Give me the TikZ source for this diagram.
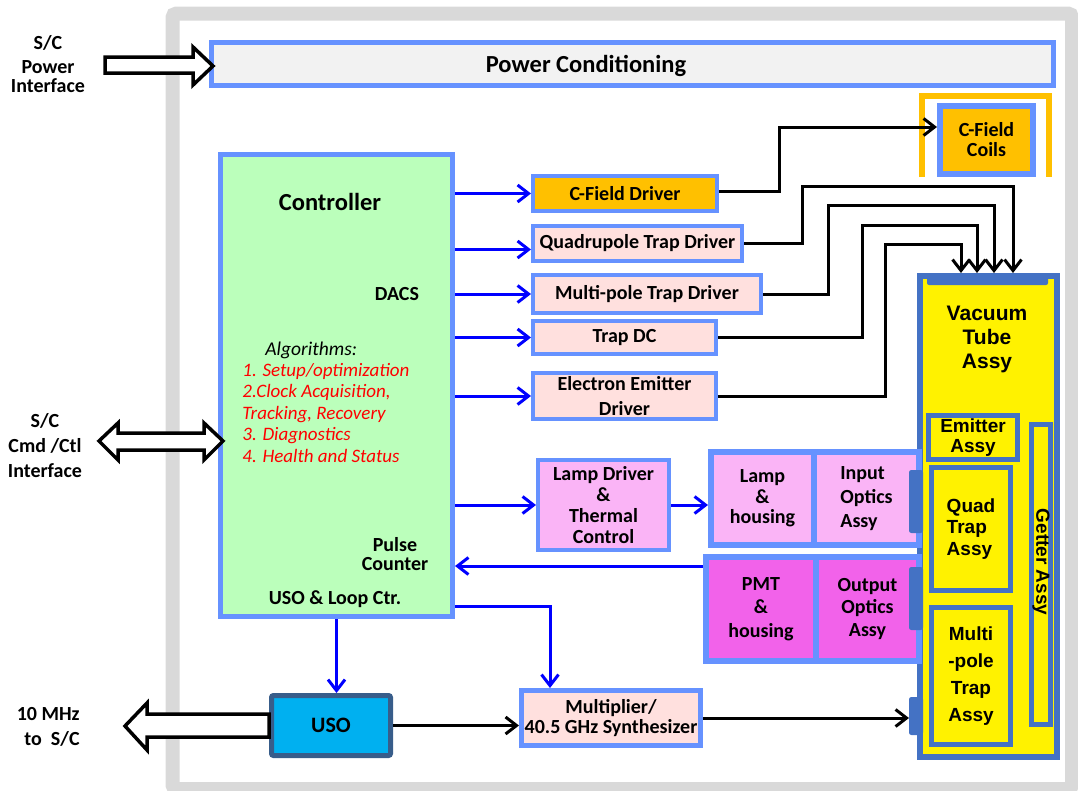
\documentclass[tikz,border=0pt]{standalone}
\usepackage{fontspec}
\setmainfont{Carlito}
\newfontfamily\arialfont{Liberation Sans}
\usetikzlibrary{arrows.meta,calc}

\definecolor{boxblue}{RGB}{102,146,255}
\definecolor{darkblue}{RGB}{68,114,196}
\definecolor{usoblue}{RGB}{0,176,240}
\definecolor{usoedge}{RGB}{56,93,138}
\definecolor{ctrlgreen}{RGB}{187,255,187}
\definecolor{cfdorange}{RGB}{255,192,0}
\definecolor{drvpink}{RGB}{255,224,222}
\definecolor{lamppink}{RGB}{250,180,246}
\definecolor{pmtmagenta}{RGB}{242,98,234}
\definecolor{framegray}{RGB}{217,217,217}
\definecolor{pcgray}{RGB}{242,242,242}

\tikzset{every picture/.style={line width=0.75pt}}
\tikzset{
  blk/.style={draw=boxblue, line width=4pt, inner sep=0pt, align=center,
    font=\bfseries\fontsize{20}{21}\selectfont},
  tubeblk/.style={draw=darkblue, line width=5pt, fill=yellow, inner sep=0pt, align=center,
    font=\arialfont\bfseries\fontsize{19}{21}\selectfont},
  lbl/.style={inner sep=0pt, align=center, font=\bfseries\fontsize{20}{21}\selectfont},
  tabblk/.style={draw=darkblue, fill=darkblue, line width=1pt, rounded corners=2pt,
    minimum width=13pt, inner sep=0pt},
  barrow/.style={draw=blue, line width=3pt, -{Straight Barb[length=11pt,width=17pt]}},
  karrow/.style={draw=black, line width=3pt, -{Straight Barb[length=11pt,width=17pt]}},
  hollow/.style={draw=black, line width=3.5pt, fill=white, line join=miter},
}

\begin{document}
\begin{tikzpicture}[x=1pt,y=1pt,yscale=-1,xscale=1]
\useasboundingbox (0,0) rectangle (1078,790);

%Frame
\draw [framegray, line width=14pt, rounded corners=4pt] (172.5,13.5) rectangle (1072,789);

%Power Conditioning
\node [blk, fill=pcgray, line width=5pt, minimum width=842pt, minimum height=43pt] (power) at (632.5,64) {};
\node [lbl, font=\bfseries\fontsize{24.5}{28}\selectfont] (powertxt) at (586,66) {Power Conditioning};

%Controller
\node [blk, fill=ctrlgreen, line width=5pt, minimum width=232pt, minimum height=462pt] (ctrl) at (336.5,385.5) {};
\node [lbl, font=\bfseries\fontsize{24.5}{28}\selectfont] (ctrlname) at (330,202) {Controller};
\node [lbl] (dacs) at (397,294) {DACS};
\node [lbl, font=\itshape\fontsize{19.5}{21}\selectfont, anchor=west] (algo) at (265,350) {Algorithms:};
\node [lbl, font=\itshape\fontsize{19}{21.5}\selectfont, text=red, align=left, anchor=west] (algolist) at (242,413)
  {1. Setup/optimization\\2.Clock Acquisition,\\Tracking, Recovery\\3. Diagnostics\\4. Health and Status};
\node [lbl, font=\bfseries\fontsize{20}{18.5}\selectfont] (pulse) at (395,554) {Pulse\\Counter};
\node [lbl] (usoloop) at (335,599) {USO \& Loop Ctr.};

%Drivers
\node [blk, fill=cfdorange, minimum width=184pt, minimum height=35pt] (cfd) at (625,193.5) {C-Field Driver};
\node [blk, fill=drvpink, minimum width=209pt, minimum height=35pt] (qtd) at (637.5,243.5) {Quadrupole Trap Driver};
\node [blk, fill=drvpink, minimum width=228pt, minimum height=38pt] (mtd) at (647,294) {Multi-pole Trap Driver};
\node [blk, fill=drvpink, minimum width=183pt, minimum height=33pt] (tdc) at (624.5,337.5) {Trap DC};
\node [blk, fill=drvpink, minimum width=183pt, minimum height=46pt, font=\bfseries\fontsize{20}{25}\selectfont] (eed) at (624.5,396) {Electron Emitter\\Driver};
\node [blk, fill=lamppink, minimum width=131pt, minimum height=90pt] (ldrv) at (603.5,505) {Lamp Driver\\\&\\Thermal\\Control};

%Vacuum Tube
\node [tubeblk, line width=6pt, minimum width=137pt, minimum height=481pt] (vac) at (988.5,516.5) {};
\fill [darkblue, rounded corners=2pt] ($(vac.north west)+(10,0)$) rectangle ($(vac.north east)+(-12,12)$);
\node [lbl, font=\arialfont\bfseries\fontsize{21}{24}\selectfont] (vactxt) at (987,339) {Vacuum\\Tube\\Assy};
\node [tubeblk, minimum width=89pt, minimum height=44pt, font=\arialfont\bfseries\fontsize{19}{20}\selectfont] (emit) at (973,437.5) {Emitter\\Assy};
\node [tubeblk, minimum width=79pt, minimum height=123pt, align=left, font=\arialfont\bfseries\fontsize{19}{21.5}\selectfont] (quad) at (971,529) {Quad\\Trap\\Assy};
\node [tubeblk, minimum width=79pt, minimum height=137pt, font=\arialfont\bfseries\fontsize{19}{27}\selectfont] (mpole) at (971,676) {Multi\\-pole\\Trap\\Assy};
\node [tubeblk, minimum width=19pt, minimum height=300pt] (getter) at (1041,574.5) {};
\node [lbl, rotate=-90, font=\arialfont\bfseries\fontsize{19}{21}\selectfont] (gettertxt) at (1041,562) {Getter Assy};

%C-Field Coils
\draw [cfdorange, line width=6pt] (922,177) -- (922,96) -- (1049,96) -- (1049,177);
\node [blk, fill=cfdorange, line width=6pt, minimum width=93pt, minimum height=68pt, font=\bfseries\fontsize{20}{20}\selectfont] (coils) at (986.5,140) {C-Field\\Coils};

%Optics
\node [blk, fill=lamppink, line width=6pt, minimum width=103pt, minimum height=93pt, font=\bfseries\fontsize{20}{20.5}\selectfont] (lamp) at (762.5,498.5) {Lamp\\\&\\housing};
\node [blk, fill=lamppink, line width=6pt, minimum width=105pt, minimum height=93pt, align=left, font=\bfseries\fontsize{20}{24}\selectfont] (inopt) at (866.5,498.5) {Input\\Optics\\Assy};
\node [blk, fill=pmtmagenta, line width=6pt, minimum width=110pt, minimum height=104pt, font=\bfseries\fontsize{20}{23.5}\selectfont] (pmt) at (761,609) {PMT\\\&\\housing};
\node [blk, fill=pmtmagenta, line width=6pt, minimum width=103pt, minimum height=104pt, font=\bfseries\fontsize{20}{22.5}\selectfont] (outopt) at (867.5,609) {Output\\Optics\\Assy};
\node [tabblk, minimum height=62pt] (tabin) at (916,501.5) {};
\node [tabblk, minimum height=62pt] (tabout) at (916,598.5) {};
\node [tabblk, minimum height=37pt] (tabsyn) at (916,716) {};

%USO and Multiplier
\node [blk, draw=usoedge, fill=usoblue, line width=5pt, rounded corners=2pt, minimum width=119pt, minimum height=60pt, font=\bfseries\fontsize{22}{24}\selectfont] (uso) at (331,725.5) {USO};
\node [blk, fill=drvpink, line width=5pt, minimum width=179pt, minimum height=55pt, font=\bfseries\fontsize{20}{20}\selectfont] (mult) at (611,718) {Multiplier/\\40.5 GHz Synthesizer};

%Interface arrows
\draw [hollow] (105,57) -- (193,57) -- (193,47) -- (213,66) -- (193,85) -- (193,73) -- (105,73) -- cycle;
\draw [hollow] (99,441) -- (118,423) -- (118,433) -- (204,433) -- (204,423) -- (223,441) -- (204,460) -- (204,450) -- (118,450) -- (118,460) -- cycle;
\draw [hollow] (125,726) -- (147,703) -- (147,714) -- (269,714) -- (269,737) -- (147,737) -- (147,750) -- cycle;
\node [lbl, font=\bfseries\fontsize{20}{19}\selectfont] (pwrlbl) at (48,64) {S/C\\[5pt]Power\\Interface};
\node [lbl, font=\bfseries\fontsize{20}{25}\selectfont] (cmdlbl) at (45,446) {S/C\\Cmd /Ctl\\Interface};
\node [lbl, font=\bfseries\fontsize{20}{25}\selectfont, align=right, anchor=east] (mhzlbl) at (80,727) {10 MHz\\to\ \ S/C};

%Blue connectors
\coordinate (qin) at ($(qtd.west)+(0,6)$);
\coordinate (pmtout) at ($(pmt.north west)+(0,12)$);
\draw [barrow] (ctrl.east |- cfd.west) -- (cfd.west);
\draw [barrow] (qin -| ctrl.east) -- (qin);
\draw [barrow] (ctrl.east |- mtd.west) -- (mtd.west);
\draw [barrow] (ctrl.east |- tdc.west) -- (tdc.west);
\draw [barrow] (ctrl.east |- eed.west) -- (eed.west);
\draw [barrow] (ctrl.east |- ldrv.west) -- (ldrv.west);
\draw [barrow] (ldrv.east) -- (ldrv.east -| lamp.west);
\draw [barrow] (pmtout) -- (pmtout -| ctrl.east);
\draw [barrow] ($(ctrl.south east)+(0,-13)$) -| ($(mult.north west)+(31,0)$);
\draw [barrow] (ctrl.south) -- (ctrl.south |- uso.north);

%Black connectors
\coordinate (vinA) at ($(vac.north west)+(44,0)$);
\coordinate (vinB) at ($(vac.north west)+(60,0)$);
\coordinate (vinC) at ($(vac.north west)+(77,0)$);
\coordinate (vinD) at ($(vac.north west)+(96,0)$);
\draw [karrow] ($(cfd.east)+(0,-2)$) -- ++(60,0) |- ($(coils.west)+(0,-13)$);
\draw [karrow] (qtd.east) -- ++(58,0) |- ($(vinD)+(0,-87)$) -- (vinD);
\draw [karrow] (mtd.east) -- ++(65,0) |- ($(vinC)+(0,-68)$) -- (vinC);
\draw [karrow] (tdc.east) -- ++(144,0) |- ($(vinB)+(0,-48)$) -- (vinB);
\draw [karrow] (eed.east) -- ++(167,0) |- ($(vinA)+(0,-29)$) -- (vinA);
\draw [karrow] (uso.east) -- (uso.east -| mult.west);
\draw [karrow] (mult.east) -- (mult.east -| tabsyn.west);

\end{tikzpicture}
\end{document}
